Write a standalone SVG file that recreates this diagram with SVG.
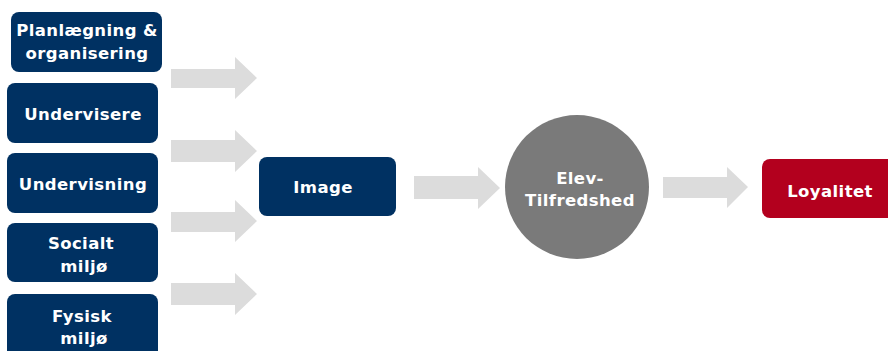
<svg xmlns="http://www.w3.org/2000/svg" width="888" height="351" viewBox="0 0 888 351">
<defs>
<style>
.nb{fill:#003162;}
.rd{fill:#b3001e;}
.ci{fill:#7a7a7a;}
.ar{fill:#dcdcdc;}
text{font-family:"DejaVu Sans",Verdana,sans-serif;font-weight:bold;font-size:16.5px;fill:#ffffff;text-anchor:middle;letter-spacing:0.4px;}
</style>
</defs>
<rect width="888" height="351" fill="#ffffff"/>
<g id="n-planlaegning"><rect class="nb" x="11" y="12" width="151" height="60" rx="8"/><text x="87" y="36">Planlægning &amp;</text><text x="87" y="59">organisering</text></g>
<g id="n-undervisere"><rect class="nb" x="7" y="83" width="151" height="60" rx="8"/><text x="83" y="120">Undervisere</text></g>
<g id="n-undervisning"><rect class="nb" x="7" y="153" width="151" height="60" rx="8"/><text x="83" y="190">Undervisning</text></g>
<g id="n-socialt"><rect class="nb" x="7" y="223" width="151" height="59" rx="8"/><text x="81" y="249">Socialt</text><text x="84" y="272">miljø</text></g>
<g id="n-fysisk"><rect class="nb" x="7" y="294" width="151" height="66" rx="8"/><text x="82" y="322">Fysisk</text><text x="84" y="344">miljø</text></g>
<g id="n-image"><rect class="nb" x="259" y="157" width="137" height="59" rx="8"/><text x="323" y="193">Image</text></g>
<g id="n-elev"><circle class="ci" cx="577" cy="187" r="72"/><text x="580" y="184">Elev-</text><text x="580" y="206">Tilfredshed</text></g>
<g id="n-loyalitet"><rect class="rd" x="762" y="159" width="140" height="59" rx="8"/><text x="830" y="197">Loyalitet</text></g>
<g id="connectors">
<polygon class="ar" points="171,69 235,69 235,57 257,78 235,99 235,88 171,88"/>
<polygon class="ar" points="171,140 235,140 235,130 257,151 235,172 235,162 171,162"/>
<polygon class="ar" points="171,212 235,212 235,200 257,221 235,242 235,232 171,232"/>
<polygon class="ar" points="171,283 235,283 235,273 257,294 235,315 235,305 171,305"/>
<polygon class="ar" points="414,176 478,176 478,167 500,188 478,209 478,199 414,199"/>
<polygon class="ar" points="663,177 727,177 727,167 748,187 727,208 727,198 663,198"/>
</g>
</svg>
